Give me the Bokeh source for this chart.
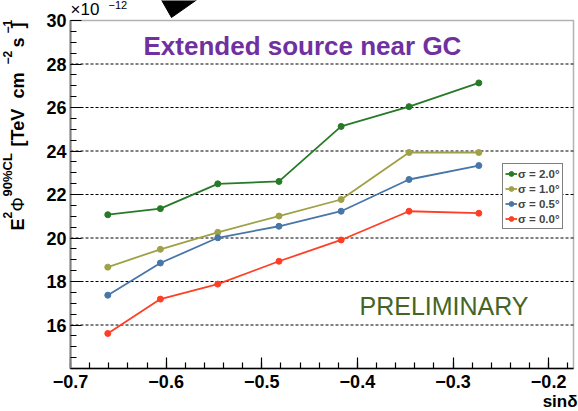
from bokeh.plotting import figure
from bokeh.models import (Range1d, FixedTicker, Label, Legend, LegendItem,
                          PolyAnnotation, LinearAxis, BoxAnnotation)
from bokeh.embed import file_html
from bokeh.resources import INLINE

# ---------------- data ----------------
sin_dec = [-0.661, -0.606, -0.546, -0.482, -0.417, -0.346, -0.273]
ul_sigma_2_0 = [21.07, 21.35, 22.49, 22.60, 25.13, 26.04, 27.13]
ul_sigma_1_0 = [18.66, 19.48, 20.26, 21.01, 21.77, 23.93, 23.93]
ul_sigma_0_5 = [17.37, 18.85, 20.01, 20.54, 21.23, 22.69, 23.33]
ul_sigma_0_0 = [15.61, 17.19, 17.88, 18.93, 19.91, 21.23, 21.14]
series_labels = ["σ = 2.0°", "σ = 1.0°", "σ = 0.5°", "σ = 0.0°"]
series_colors = ["#277a27", "#a0a046", "#4876a8", "#ff3f25"]

x_ticks = [-0.7, -0.6, -0.5, -0.4, -0.3, -0.2]
x_tick_labels = ["\u22120.7", "\u22120.6", "\u22120.5", "\u22120.4", "\u22120.3", "\u22120.2"]
y_ticks = [16, 18, 20, 22, 24, 26, 28, 30]
grid_y = [16, 18, 20, 22, 24, 26, 28]

# axis box (data coordinates of the plotting frame)
X_MIN, X_MAX = -0.7, -0.174
Y_MIN, Y_MAX = 14.0, 30.0

W, H = 578, 411
FRAME_L, FRAME_R, FRAME_T, FRAME_B = 70, 573, 20, 368   # pixel box of the axes
FONT = "Liberation Sans"

# the canvas-wide ranges that put the axes box at the pixel box above
sx_per = (FRAME_R - FRAME_L) / (X_MAX - X_MIN)
sy_per = (FRAME_B - FRAME_T) / (Y_MAX - Y_MIN)
xr = Range1d(X_MIN - FRAME_L / sx_per, X_MAX + (W - FRAME_R) / sx_per)
yr = Range1d(Y_MIN - (H - FRAME_B) / sy_per, Y_MAX + FRAME_T / sy_per)

p = figure(width=W, height=H, output_backend="svg", toolbar_location=None,
           x_range=xr, y_range=yr, x_axis_type=None, y_axis_type=None,
           min_border=0)
p.outline_line_color = None
p.background_fill_color = "white"
p.border_fill_color = "white"

# frame box (under axes)
p.add_layout(BoxAnnotation(left=X_MIN, right=X_MAX, bottom=Y_MIN, top=Y_MAX,
                           fill_alpha=0, line_color="black", line_width=1.5,
                           level="underlay"))

# dotted grid
p.segment(x0=[X_MIN] * len(grid_y), x1=[X_MAX] * len(grid_y), y0=grid_y, y1=grid_y,
          line_color="black", line_width=1, line_dash="3 2")

# axes drawn at the box edges
xa = LinearAxis(fixed_location=Y_MIN, bounds=(X_MIN, X_MAX),
                ticker=FixedTicker(ticks=x_ticks,
                                   minor_ticks=[-0.7 + 0.02 * i for i in range(27)]))
ya = LinearAxis(fixed_location=X_MIN, bounds=(Y_MIN, Y_MAX),
                ticker=FixedTicker(ticks=y_ticks,
                                   minor_ticks=[14 + 0.5 * i for i in range(33)]))
xa.major_label_overrides = {t: l for t, l in zip(x_ticks, x_tick_labels)}
for ax in (xa, ya):
    ax.major_tick_in = 11
    ax.major_tick_out = 0
    ax.minor_tick_in = 6
    ax.minor_tick_out = 0
    ax.major_tick_line_color = "black"
    ax.minor_tick_line_color = "black"
    ax.major_tick_line_width = 1.2
    ax.minor_tick_line_width = 1.2
    ax.major_label_text_font = FONT
    ax.major_label_text_font_style = "bold"
    ax.major_label_text_font_size = "18px"
    ax.major_label_text_color = "black"
xa.axis_line_color = "black"
xa.axis_line_width = 1.5
ya.axis_line_color = "#7f7f7f"
ya.axis_line_width = 2
xa.major_label_standoff = 6
ya.major_label_standoff = 4
p.add_layout(xa, "below")
p.add_layout(ya, "left")

# series
series = [ul_sigma_2_0, ul_sigma_1_0, ul_sigma_0_5, ul_sigma_0_0]
items = []
for ys, lab_, col in zip(series, series_labels, series_colors):
    r1 = p.line(sin_dec, ys, line_color=col, line_width=1.8)
    r2 = p.scatter(sin_dec, ys, size=6, fill_color=col, line_color=col)
    items.append(LegendItem(label=lab_, renderers=[r1, r2]))

legend = Legend(items=items, location=(502, H - 229))
legend.border_line_color = "black"
legend.border_line_width = 1.5
legend.background_fill_color = "white"
legend.background_fill_alpha = 1
legend.padding = 2
legend.spacing = 0
legend.margin = 0
legend.glyph_width = 12
legend.glyph_height = 15
legend.label_height = 15
legend.label_standoff = 1
legend.label_text_font = FONT
legend.label_text_font_style = "bold"
legend.label_text_font_size = "11.5px"
p.add_layout(legend)

SHIFT = 8  # baseline correction
RSHIFT = 7

def lab(text, cx, cy, size, bold=True, color="black", rot=False, align="left"):
    # cx, cy: canvas pixel of the baseline start (top-left origin)
    if rot:
        x, y, ang = cx - RSHIFT, H - cy, 1.5707963
    else:
        x, y, ang = cx, H - cy + SHIFT, 0.0
    p.add_layout(Label(x=x, y=y, x_units="screen", y_units="screen", text=text,
                       text_font=FONT, text_font_size=f"{size}px",
                       text_font_style="bold" if bold else "normal",
                       text_color=color, angle=ang, text_align=align,
                       text_baseline="alphabetic"))

lab("Extended source near GC", 143, 53, 26, color="#7030a0")
lab("PRELIMINARY", 359, 313, 25, bold=False, color="#456425")
lab("\u00d710", 70, 17, 17, bold=False)
lab("\u221212", 108, 12, 11, bold=False)
lab("sin\u03b4", 577, 409, 17, align="right")

lab("E", 24, 230, 18, rot=True)
lab("2", 14, 218, 12, rot=True)
lab("\u03a6", 24, 211, 18, bold=False, rot=True)
lab("90%CL", 14, 196, 13, rot=True)
lab("[TeV", 24, 146, 18, rot=True)
lab("cm", 24, 98, 18, rot=True)
lab("\u22122", 14, 64, 12, rot=True)
lab("s", 24, 47, 18, rot=True)
lab("\u22121", 14, 33, 12, rot=True)
lab("]", 24, 28, 18, rot=True)

# black arrow head at the top (slide artifact)
p.add_layout(PolyAnnotation(xs=[159, 201, 171], ys=[H + 4, H + 4, H - 17],
                            xs_units="screen", ys_units="screen",
                            fill_color="black", fill_alpha=1,
                            line_color="black", line_alpha=1))

open("out.html", "w").write(file_html(p, INLINE))
